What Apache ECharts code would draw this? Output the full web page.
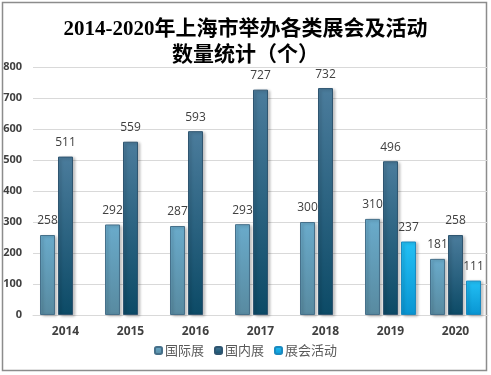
<!DOCTYPE html>
<html>
<head>
<meta charset="utf-8">
<script src="https://cdn.jsdelivr.net/npm/echarts@6/dist/echarts.min.js"></script>
<style>
  html, body { margin: 0; padding: 0; background: #fff; }
  #main { width: 491px; height: 375px; }
</style>
</head>
<body>
<div id="main"></div>
<script>
var years = ['2014', '2015', '2016', '2017', '2018', '2019', '2020']
var intlShow = [258, 292, 287, 293, 300, 310, 181]
var domesticShow = [511, 559, 593, 727, 732, 496, 258]
var events = [null, null, null, null, null, 237, 111]

function grad(top, bottom) {
  return new echarts.graphic.LinearGradient(0, 0, 0, 1, [
    { offset: 0, color: top },
    { offset: 1, color: bottom },
  ])
}

var labelStyle = {
  show: true,
  position: 'top',
  distance: 8,
  color: '#404040',
  fontSize: 12,
  fontFamily: 'Open Sans',
}

function barItem(top, bottom, border) {
  return {
    color: grad(top, bottom),
    borderColor: border,
    borderWidth: 1,
    shadowColor: 'rgba(0,0,0,0.25)',
    shadowBlur: 3,
    shadowOffsetX: 2,
    shadowOffsetY: 1,
  }
}

var chart = echarts.init(document.getElementById('main'))
var option = {
  animation: false,
  title: {
    text: '2014-2020年上海市举办各类展会及活动\n数量统计（个）',
    left: 'center',
    top: 12,
    textStyle: {
      fontFamily: 'Liberation Serif, Noto Sans CJK SC',
      fontWeight: 'bold',
      fontSize: 21,
      lineHeight: 26,
      color: '#000',
    },
  },
  graphic: [
    {
      type: 'rect',
      shape: { x: 2.5, y: 2.5, width: 484, height: 368 },
      style: { fill: 'none', stroke: '#8c8c8c', lineWidth: 1.5 },
      silent: true,
    },
  ],
  legend: {
    data: ['国际展', '国内展', '展会活动'],
    bottom: 13,
    left: 'center',
    itemWidth: 7,
    itemHeight: 7,
    itemGap: 10,
    textStyle: {
      fontFamily: 'Noto Sans CJK SC',
      fontSize: 13,
      color: '#595959',
      padding: [0, 0, 0, -2],
    },
  },
  grid: { left: 33, right: 3, top: 67, bottom: 60 },
  xAxis: {
    type: 'category',
    data: years,
    axisTick: { show: false },
    axisLine: { lineStyle: { color: '#d9d9d9', width: 1 } },
    axisLabel: {
      color: '#404040',
      fontWeight: 'bold',
      fontSize: 12,
      fontFamily: 'Open Sans',
      margin: 11,
    },
  },
  yAxis: {
    type: 'value',
    min: 0,
    max: 800,
    interval: 100,
    axisLine: { show: false },
    axisTick: { show: false },
    splitLine: { lineStyle: { color: '#d9d9d9', width: 1 } },
    axisLabel: {
      color: '#404040',
      fontWeight: 'bold',
      fontSize: 11,
      fontFamily: 'Open Sans',
      margin: 11,
    },
  },
  series: [
    {
      name: '国际展',
      type: 'bar',
      data: intlShow,
      barWidth: 15,
      barGap: '20%',
      label: labelStyle,
      itemStyle: barItem('#6aabcb', '#588aa0', '#46708a'),
    },
    {
      name: '国内展',
      type: 'bar',
      data: domesticShow,
      barWidth: 15,
      barGap: '20%',
      label: labelStyle,
      itemStyle: barItem('#4b7c9c', '#0c4a66', '#2f5570'),
    },
    {
      name: '展会活动',
      type: 'bar',
      data: events,
      barWidth: 15,
      barGap: '20%',
      label: labelStyle,
      itemStyle: barItem('#22c0f5', '#0995d2', '#1a8ac0'),
    },
  ],
}
chart.setOption(option)
window.addEventListener('resize', function () {
  chart.resize()
})
</script>
</body>
</html>
